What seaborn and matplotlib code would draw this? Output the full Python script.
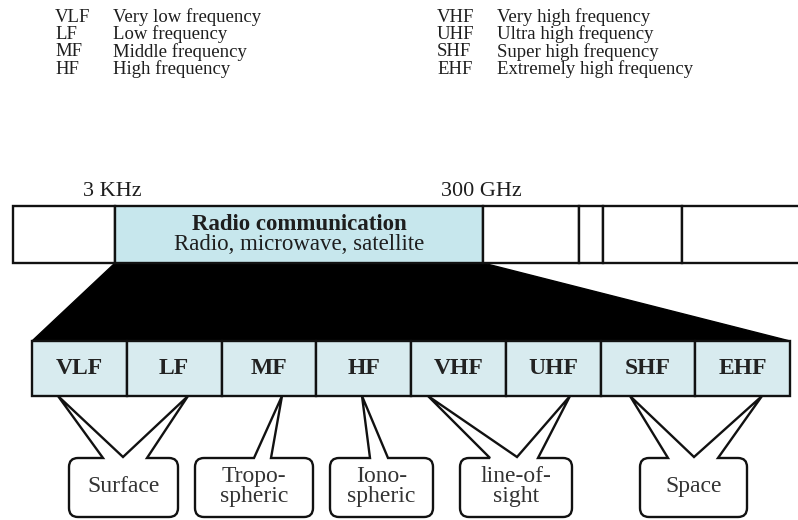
import matplotlib
matplotlib.use("Agg")

import matplotlib.pyplot as plt
from matplotlib.patches import Rectangle, Polygon, PathPatch
from matplotlib.path import Path
import seaborn as sns

# ---- content ----
BAND_ABBR = ["VLF", "LF", "MF", "HF", "VHF", "UHF", "SHF", "EHF"]
BAND_NAMES = ["Very low frequency", "Low frequency", "Middle frequency", "High frequency",
              "Very high frequency", "Ultra high frequency", "Super high frequency",
              "Extremely high frequency"]
RANGE_LABELS = ["3 KHz", "300 GHz"]
RADIO_TITLE = "Radio communication"
RADIO_SUB = "Radio, microwave, satellite"
PROPAGATION = ["Surface", "Tropo-\nspheric", "Iono-\nspheric", "line-of-\nsight", "Space"]
PROPAGATION_BANDS = [["VLF", "LF"], ["MF"], ["HF"], ["VHF", "UHF"], ["SHF", "EHF"]]

# ---- layout (pixels, y down) ----
W, H = 798, 520
LEGEND_ROWS_Y = [17, 34.5, 52, 69.5]
LEGEND_COLS_X = [55, 113, 437, 497]
SPEC_EDGES = [13, 115, 483, 579, 603, 682, 810]
SPEC_Y0, SPEC_Y1 = 206, 263
RANGE_X = [112, 481]
RANGE_Y = 191
LOW_X0, LOW_X1 = 32, 790
LOW_Y0, LOW_Y1 = 341, 396
BOX_Y0, BOX_Y1 = 458, 517
BOX_X = [(69, 178), (195, 313), (330, 433), (460, 572), (640, 747)]
TAIL_TIPS = [[58, 188], [282], [362], [428, 570], [630, 762]]
TAIL_BASES = [[103, 123, 147], [254, 271], [370, 388], [490, 517, 538], [668, 694, 718]]

SERIF = "Liberation Serif"
CYAN = "#c7e7ed"
PALE = "#d8ebef"
INK = "#1e1e1e"
LW = 1.7


def callout_path(x0, x1, y0, y1, tips, bases, r=9):
    # outline of a rounded box whose top edge turns into the pointer tail(s)
    verts = [(x0 + r, y0)]
    codes = [Path.MOVETO]
    if len(tips) == 1:
        seq = [(bases[0], y0), (tips[0], LOW_Y1), (bases[1], y0)]
    else:
        seq = [(bases[0], y0), (tips[0], LOW_Y1), (bases[1], y0 - 1),
               (tips[1], LOW_Y1), (bases[2], y0)]
    for p in seq:
        verts.append(p)
        codes.append(Path.LINETO)
    verts += [(x1 - r, y0), (x1, y0), (x1, y0 + r), (x1, y1 - r), (x1, y1), (x1 - r, y1),
              (x0 + r, y1), (x0, y1), (x0, y1 - r), (x0, y0 + r), (x0, y0), (x0 + r, y0)]
    codes += [Path.LINETO, Path.CURVE3, Path.CURVE3, Path.LINETO, Path.CURVE3, Path.CURVE3,
              Path.LINETO, Path.CURVE3, Path.CURVE3, Path.LINETO, Path.CURVE3, Path.CURVE3]
    verts.append((x0 + r, y0))
    codes.append(Path.CLOSEPOLY)
    return Path(verts, codes)


def main() -> None:
    sns.set_theme(style="white")
    plt.rcParams["font.family"] = [SERIF, "DejaVu Serif"]

    fig = plt.figure(figsize=(W / 100, H / 100), dpi=100)
    ax = fig.add_axes([0, 0, 1, 1])
    ax.set_xlim(0, W)
    ax.set_ylim(H, 0)
    ax.axis("off")

    # legend of abbreviations
    half = len(BAND_ABBR) // 2
    for i, (abbr, name) in enumerate(zip(BAND_ABBR, BAND_NAMES)):
        col = 0 if i < half else 2
        y = LEGEND_ROWS_Y[i % half]
        ax.text(LEGEND_COLS_X[col], y, abbr, fontsize=13.5, va="center", ha="left", color=INK)
        ax.text(LEGEND_COLS_X[col + 1], y, name, fontsize=13.5, va="center", ha="left",
                color=INK)

    # spectrum band
    for lbl, x in zip(RANGE_LABELS, RANGE_X):
        ax.text(x, RANGE_Y, lbl, fontsize=16, ha="center", va="center", color=INK)
    for a, b in zip(SPEC_EDGES[:-1], SPEC_EDGES[1:]):
        fc = CYAN if a == SPEC_EDGES[1] else "white"
        ax.add_patch(Rectangle((a, SPEC_Y0), b - a, SPEC_Y1 - SPEC_Y0, fc=fc, ec="#111111",
                               lw=LW, zorder=3))
    mid = (SPEC_EDGES[1] + SPEC_EDGES[2]) / 2
    ax.text(mid, 224, RADIO_TITLE, fontsize=16.5, fontweight="bold", ha="center", va="center",
            color=INK, zorder=4)
    ax.text(mid, 245, RADIO_SUB, fontsize=16.5, ha="center", va="center", color=INK,
            zorder=4)

    # black zoom wedge
    ax.add_patch(Polygon([(SPEC_EDGES[1], SPEC_Y1), (SPEC_EDGES[2], SPEC_Y1),
                          (LOW_X1, LOW_Y0), (LOW_X0, LOW_Y0)], closed=True,
                         fc="black", ec="black", lw=1, zorder=2))

    # sub-bands
    cw = (LOW_X1 - LOW_X0) / len(BAND_ABBR)
    for i, abbr in enumerate(BAND_ABBR):
        x = LOW_X0 + i * cw
        ax.add_patch(Rectangle((x, LOW_Y0), cw, LOW_Y1 - LOW_Y0, fc=PALE, ec="#111111",
                               lw=LW, zorder=3))
        ax.text(x + cw / 2, (LOW_Y0 + LOW_Y1) / 2, abbr, fontsize=17, fontweight="bold",
                ha="center", va="center", color="#222222", zorder=4)

    # propagation callouts
    for name, bands, (x0, x1), tips, bases in zip(PROPAGATION, PROPAGATION_BANDS, BOX_X,
                                                  TAIL_TIPS, TAIL_BASES):
        path = callout_path(x0, x1, BOX_Y0, BOX_Y1, tips, bases)
        ax.add_patch(PathPatch(path, fc="white", ec="#111111", lw=LW, zorder=3,
                               joinstyle="miter"))
        ax.text((x0 + x1) / 2, (BOX_Y0 + BOX_Y1) / 2 - 1, name, fontsize=17, ha="center",
                va="center", linespacing=0.95, color="#333333", zorder=4)

    fig.savefig("out.png", dpi=100, facecolor="white")
    plt.close("all")


if __name__ == "__main__":
    main()
